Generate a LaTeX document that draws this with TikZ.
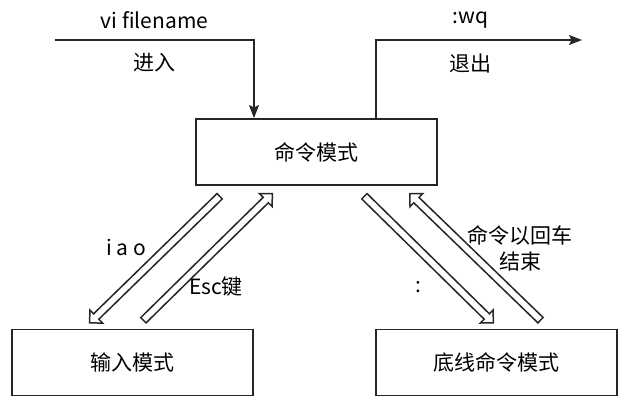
\documentclass[tikz,border=0pt]{standalone}
\usepackage{fontspec}
\setmainfont{Noto Sans CJK SC}
\usetikzlibrary{arrows.meta, calc, shapes.arrows}
% hollow flat arrow between two points
\newcommand\fatarrow[2]{\path let \p1=($(#2)-(#1)$), \n1={atan2(\y1,\x1)}, \n2={veclen(\x1,\y1)} in
    node[fat, rotate=\n1, minimum height=\n2] at ($(#1)!.5!(#2)$) {};}
\begin{document}
\begin{tikzpicture}[x=0.5pt, y=-0.5pt, font=\fontsize{10.5}{13}\selectfont,
    mode/.style={draw=black!85, line width=0.9pt, minimum width=120.5pt, minimum height=33pt},
    flow/.style={draw=black!85, line width=0.9pt, -{Stealth[length=6.5pt, width=5pt, inset=1.2pt]}},
    fat/.style={single arrow, draw=black!85, line width=0.75pt, inner xsep=0pt, inner ysep=1.5pt,
        single arrow head extend=2.7pt, single arrow tip angle=90, shape border uses incircle=false}]
    \useasboundingbox (0,0) rectangle (627,403);
    \node[mode] (cmd) at (316.5,152) {命令模式};
    \node[mode] (insert) at (132.5,362.5) {输入模式};
    \node[mode] (last) at (496.5,362.5) {底线命令模式};
    \coordinate (vin) at (55,40);
    \coordinate (vout) at (582,40);
    \draw[flow] (vin) -| node[pos=.25, above=2pt] {vi filename}
        node[pos=.25, below=3pt] {进入} ([shift={(-62.5,0)}]cmd.north);
    \draw[flow] ([shift={(59.5,0)}]cmd.north) |- node[pos=.73, above=2pt] {:wq}
        node[pos=.73, below=3pt] {退出} (vout);
    % mode switches
    \coordinate (c1) at ([shift={(-95.5,9)}]cmd.south);
    \coordinate (c2) at ([shift={(-45.5,9)}]cmd.south);
    \coordinate (c3) at ([shift={(46.5,9)}]cmd.south);
    \coordinate (c4) at ([shift={(94.5,9)}]cmd.south);
    \coordinate (i1) at ([shift={(-41.5,-7)}]insert.north);
    \coordinate (i2) at ([shift={(9.5,-7)}]insert.north);
    \coordinate (l1) at ([shift={(-4.5,-7)}]last.north);
    \coordinate (l2) at ([shift={(45.5,-7)}]last.north);
    \fatarrow{c1}{i1}
    \fatarrow{i2}{c2}
    \fatarrow{c3}{l1}
    \fatarrow{l2}{c4}
    \node (iao) at (126,247) {i a o};
    \node (esc) at (216,287) {Esc键};
    \node (colon) at (418,287) {:};
    \node[align=center] (enter) at (520,248) {命令以回车\\结束};
\end{tikzpicture}
\end{document}
